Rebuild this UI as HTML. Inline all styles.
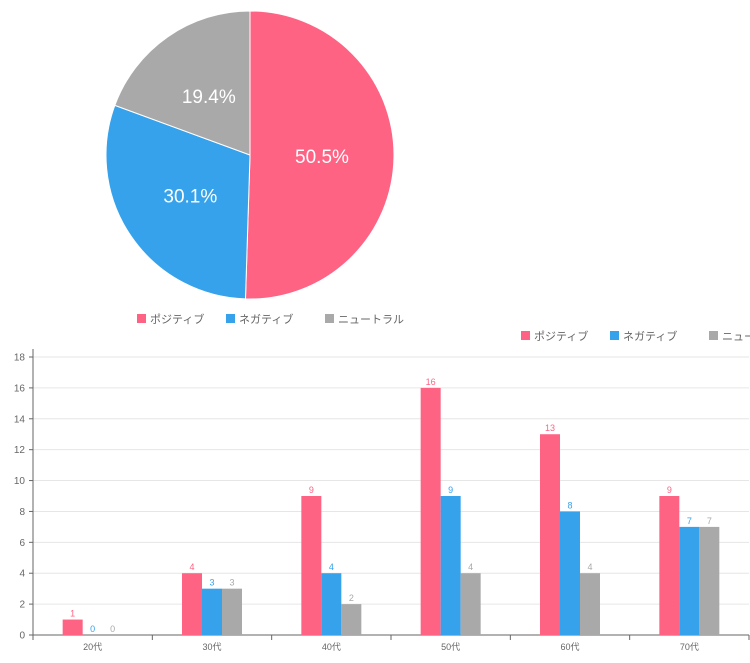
<!DOCTYPE html>
<html><head><meta charset="utf-8"><style>
body{margin:0;background:#fff;width:750px;height:663px;overflow:hidden;font-family:"Liberation Sans","Noto Sans CJK JP",sans-serif}
svg{position:absolute;left:0;top:0}
</style></head><body>
<svg id="chart" width="750" height="663"></svg>
<script>
const pieLabels=["ポジティブ","ネガティブ","ニュートラル"];
const pieValues=[50.5,30.1,19.4];
const colors=["#ff6384","#36a2eb","#a9a9a9"];
const categories=["20代","30代","40代","50代","60代","70代"];
const positive=[1,4,9,16,13,9];
const negative=[0,3,4,9,8,7];
const neutral=[0,3,2,4,4,7];
const yTicks=[0,2,4,6,8,10,12,14,16,18];
const NS="http://www.w3.org/2000/svg";
const svg=document.getElementById('chart');
function mk(tag,attrs,parent){const e=document.createElementNS(NS,tag);for(const k in attrs)e.setAttribute(k,attrs[k]);(parent||svg).appendChild(e);return e;}
// pie
const cx=250,cy=155,r=144;
const pieG=mk('g',{});


const tot=pieValues.reduce((a,b)=>a+b,0);
let ang=-Math.PI/2;
pieValues.forEach((v,i)=>{
  const a2=ang+v/tot*2*Math.PI;
  const x1=cx+r*Math.cos(ang),y1=cy+r*Math.sin(ang),x2=cx+r*Math.cos(a2),y2=cy+r*Math.sin(a2);
  const large=(a2-ang)>Math.PI?1:0;
  const p=mk('path',{d:`M${cx},${cy}L${x1},${y1}A${r},${r} 0 ${large} 1 ${x2},${y2}Z`,fill:colors[i],stroke:'#fff','stroke-width':1},pieG);
  
  
  const m=(ang+a2)/2;
  const t=mk('text',{x:cx+r*0.5*Math.cos(m),y:cy+r*0.5*Math.sin(m)+7,'text-anchor':'middle',fill:'#fff','font-size':19},pieG);
  t.textContent=v.toFixed(1)+'%';
  
  
  ang=a2;
});
function legend(x,y,name){
  const g=mk('g',{});
  
  
  const widths=[62,72,74];
  let xx=x;
  pieLabels.forEach((l,i)=>{
    const it=mk('g',{},g);
    
    
    mk('rect',{x:xx,y:y-5,width:9,height:9,fill:colors[i]},it);
    const t=mk('text',{x:xx+13,y:y+4,'font-size':11,fill:'#666'},it);
    t.textContent=l;
    xx+=widths[i]+13+14;
  });
}
legend(137,319,'pie-legend');
legend(521,336,'bar-legend');
// bar chart
const x0=33,x1=749,y0=635,yTop=357,yMax=18;
const ys=v=>y0-(v/yMax)*(y0-yTop);
const cw=(x1-x0)/categories.length;
const axes=mk('g',{});


yTicks.forEach(v=>{
  const y=ys(v);
  if(v>0)mk('line',{x1:x0,x2:x1,y1:y,y2:y,stroke:'#e6e6e6'},axes);
  mk('line',{x1:x0-4,x2:x0,y1:y,y2:y,stroke:'#666'},axes);
  const t=mk('text',{x:x0-8,y:y+3.5,'text-anchor':'end','font-size':10,fill:'#666'},axes);
  t.textContent=v;
  
  
});
mk('line',{x1:x0,x2:x0,y1:349,y2:y0,stroke:'#666'},axes);
mk('line',{x1:x0,x2:x1,y1:y0,y2:y0,stroke:'#666'},axes);
const series=[positive,negative,neutral];
categories.forEach((c,ci)=>{
  const tx=x0+ci*cw;
  mk('line',{x1:tx,x2:tx,y1:y0,y2:y0+5,stroke:'#666'},axes);
  if(ci==categories.length-1)mk('line',{x1:x1,x2:x1,y1:y0,y2:y0+5,stroke:'#666'},axes);
  const t=mk('text',{x:tx+cw/2,y:y0+15,'text-anchor':'middle','font-size':9,fill:'#666'},axes);
  t.textContent=c;
  
  
  const center=tx+cw/2;
  series.forEach((s,si)=>{
    const bx=center-30+si*20;
    const y=ys(s[ci]);
    const b=mk('rect',{x:bx,y:y,width:20,height:y0-y,fill:colors[si]});
    
    
    const l=mk('text',{x:bx+10,y:y-3,'text-anchor':'middle','font-size':9,fill:colors[si]});
    l.textContent=s[ci];
    
    
  });
});
</script>
</body></html>
